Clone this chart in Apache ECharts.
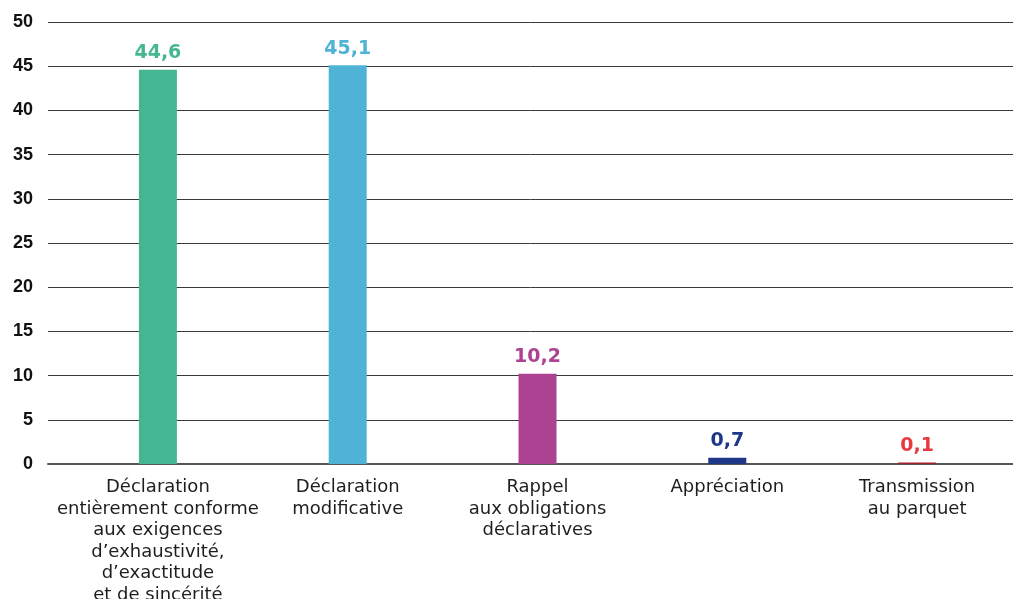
<!DOCTYPE html>
<html>
<head>
<meta charset="utf-8">
<script src="https://cdn.jsdelivr.net/npm/echarts@6/dist/echarts.min.js"></script>
<style>
html, body { margin: 0; padding: 0; background: #ffffff; }
#chart { width: 1013px; height: 599px; }
</style>
</head>
<body>
<div id="chart"></div>
<script>
// Catégories de décisions
const categories = [
  "Déclaration\nentièrement conforme\naux exigences\nd’exhaustivité,\nd’exactitude\net de sincérité",
  "Déclaration\nmodificative",
  "Rappel\naux obligations\ndéclaratives",
  "Appréciation",
  "Transmission\nau parquet"
];
// Part de chaque décision (%)
const values = [44.6, 45.1, 10.2, 0.7, 0.1];
const barColors = ["#45b692", "#4fb3d6", "#ad4292", "#1e3788", "#a31f2c"];
const labelColors = ["#45b692", "#4fb3d6", "#ad4292", "#1e3788", "#e8383d"];
const yTicks = { min: 0, max: 50, interval: 5 };

const chart = echarts.init(document.getElementById('chart'));
chart.setOption({
  animation: false,
  grid: [
    { left: 48, right: 0, top: 22, bottom: 135, outerBoundsMode: 'none' },
    { left: 63, right: 1, top: 22, bottom: 135, outerBoundsMode: 'none' }
  ],
  xAxis: [
    {
      // axe de base pleine largeur (ligne du zéro)
      gridIndex: 0, type: 'category', data: categories,
      axisLine: { show: true, lineStyle: { color: '#555', width: 2 } },
      axisTick: { show: false }, axisLabel: { show: false }
    },
    {
      gridIndex: 1, type: 'category', data: categories,
      axisLine: { show: false },
      axisTick: { show: false },
      axisLabel: {
        interval: 0, margin: 13,
        fontFamily: 'DejaVu Sans', fontSize: 18, color: '#1e1e1e', lineHeight: 21.5
      }
    }
  ],
  yAxis: [
    {
      gridIndex: 0, type: 'value', min: yTicks.min, max: yTicks.max, interval: yTicks.interval,
      axisLine: { show: false }, axisTick: { show: false },
      axisLabel: { margin: 15, fontFamily: 'Liberation Sans', fontWeight: 'bold', fontSize: 18, color: '#111' },
      splitLine: { lineStyle: { color: '#3a3a3a', width: 1 } }
    },
    {
      gridIndex: 1, type: 'value', min: yTicks.min, max: yTicks.max, interval: yTicks.interval,
      show: false, splitLine: { show: false }
    }
  ],
  series: [
    {
      type: 'bar', xAxisIndex: 1, yAxisIndex: 1, barWidth: 38, barMinHeight: 1.5, z: 3,
      data: values.map((v, i) => ({
        value: v,
        itemStyle: { color: barColors[i] },
        label: { color: labelColors[i] }
      })),
      label: {
        show: true, position: 'top', distance: 7,
        fontFamily: 'DejaVu Sans', fontWeight: 'bold', fontSize: 19,
        backgroundColor: '#ffffff', padding: [0, 4, 0, 4],
        formatter: p => String(p.value).replace('.', ',')
      }
    }
  ]
});
</script>
</body>
</html>
